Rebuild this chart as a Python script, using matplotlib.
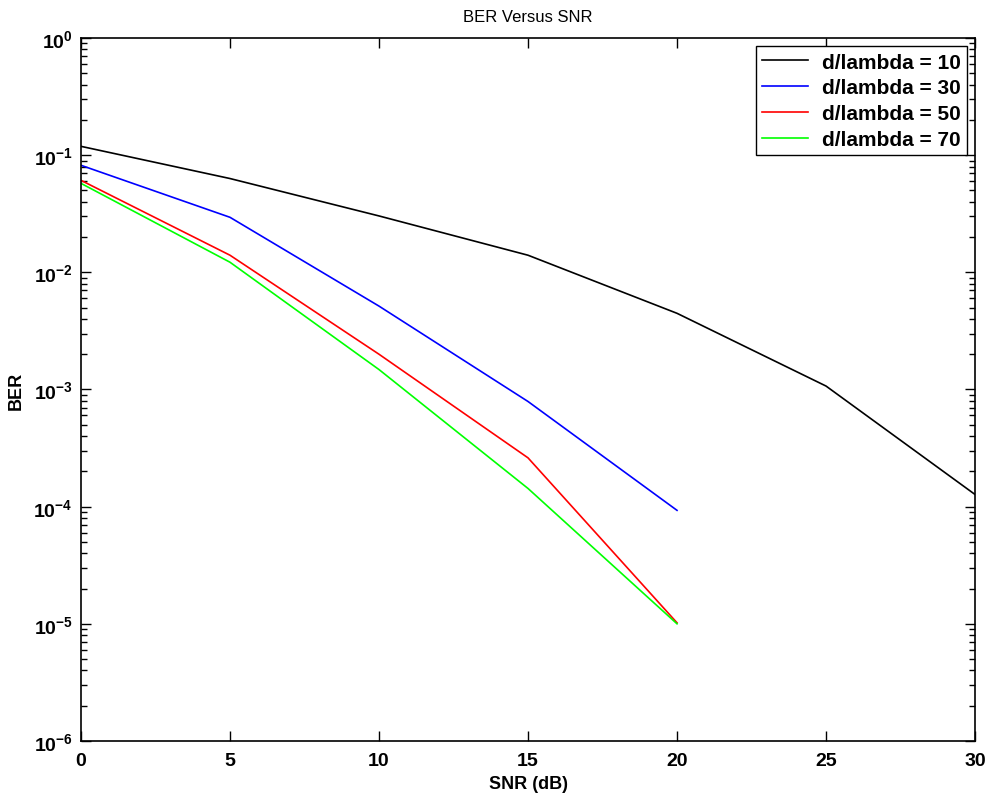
import numpy as np
import matplotlib
matplotlib.use("Agg")
import matplotlib.pyplot as plt
from matplotlib.ticker import LogLocator, NullFormatter

plt.rcParams['font.family'] = ['Liberation Sans', 'DejaVu Sans']
plt.rcParams['font.weight'] = 'bold'
plt.rcParams['mathtext.fontset'] = 'custom'
plt.rcParams['mathtext.rm'] = 'Liberation Sans:bold'
plt.rcParams['mathtext.it'] = 'Liberation Sans:bold'
plt.rcParams['mathtext.bf'] = 'Liberation Sans:bold'

# SNR points (dB)
snr_full = [0, 5, 10, 15, 20, 25, 30]
snr_short = [0, 5, 10, 15, 20]

# BER
ber_10 = [0.119, 0.0632, 0.0303, 0.0140, 0.00447, 0.00107, 1.27e-4]
ber_30 = [0.082, 0.0295, 0.00515, 7.9e-4, 9.3e-5]
ber_50 = [0.061, 0.0140, 0.0020, 2.61e-4, 1.02e-5]
ber_70 = [0.0575, 0.0122, 0.00148, 1.43e-4, 1.0e-5]

labels = ['d/lambda = 10', 'd/lambda = 30', 'd/lambda = 50', 'd/lambda = 70']

fig = plt.figure(figsize=(9.91, 8.03), dpi=100)
ax = fig.add_axes([0.0817, 0.076, 0.9022, 0.8754])

lw = 1.2
ax.semilogy(snr_full, ber_10, color='black', lw=lw, label=labels[0])
ax.semilogy(snr_short, ber_30, color='blue', lw=lw, label=labels[1])
ax.semilogy(snr_short, ber_50, color='red', lw=lw, label=labels[2])
ax.semilogy(snr_short, ber_70, color='#00ff00', lw=lw, label=labels[3])

ax.set_xlim(0, 30)
ax.set_ylim(1e-6, 1)
ax.set_xticks([0, 5, 10, 15, 20, 25, 30])
ax.yaxis.set_major_locator(LogLocator(base=10, numticks=10))
ax.yaxis.set_minor_locator(LogLocator(base=10, subs=np.arange(2, 10), numticks=20))
ax.yaxis.set_minor_formatter(NullFormatter())

ax.tick_params(which='both', direction='in', top=True, right=True, labelsize=14, width=1)
ax.tick_params(which='major', length=7)
ax.tick_params(which='minor', length=4)
ax.tick_params(axis='x', pad=8)
ax.tick_params(axis='y', pad=6)
for s in ax.spines.values():
    s.set_linewidth(1.2)

ax.set_title('BER Versus SNR', fontsize=12, fontweight='normal', pad=12)
ax.set_xlabel('SNR (dB)', fontsize=13, fontweight='bold', labelpad=4)
ax.set_ylabel('BER', fontsize=13, fontweight='bold', labelpad=6)

leg = ax.legend(loc='upper right', fontsize=15, fancybox=False, framealpha=1,
                edgecolor='black', handlelength=2.2, handletextpad=0.65,
                borderaxespad=0.4, labelspacing=0.33, borderpad=0.3)
leg.get_frame().set_linewidth(1.0)

fig.savefig('out.png', dpi=100)
